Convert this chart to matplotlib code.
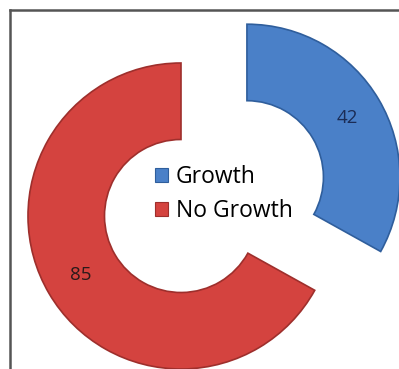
import matplotlib

matplotlib.use("agg")
import matplotlib.pyplot as plt
from matplotlib.lines import Line2D

# data
categories = ["Growth", "No Growth"]
values = [42, 85]
colors = ["#4a80c8", "#d4433f"]
edge_colors = ["#2f5e9c", "#9e2f2c"]
label_colors = ["#1b2c55", "#2a1a1a"]

W, H = 399, 369
fig = plt.figure(figsize=(W / 100, H / 100), dpi=100)
ax = fig.add_axes([0, 0, 1, 1])

# pie centre at pixel (181, 216), outer radius 153 px
cx, cy, R = 181, 216, 153
total = sum(values)
wedges, texts, autotexts = ax.pie(
    values,
    startangle=90,
    counterclock=False,
    colors=colors,
    explode=[0.5, 0.0],
    autopct=lambda p: f"{round(p * total / 100)}",
    pctdistance=0.76,
    wedgeprops=dict(width=0.5, linewidth=1.2),
    textprops=dict(fontsize=13.5, family=["Open Sans", "DejaVu Sans"]),
)
for w, ec in zip(wedges, edge_colors):
    w.set_edgecolor(ec)
for t, c in zip(autotexts, label_colors):
    t.set_color(c)

ax.set_aspect("auto")
ax.set_xlim(-cx / R, (W - cx) / R)
ax.set_ylim(-(H - cy) / R, cy / R)
ax.axis("off")

# frame lines (top and left only)
fig.add_artist(Line2D([10 / W, 1], [1 - 10 / H, 1 - 10 / H], color="#555555", lw=1.8))
fig.add_artist(Line2D([10 / W, 10 / W], [0, 1 - 10 / H], color="#555555", lw=1.8))

handles = [
    plt.Rectangle((0, 0), 1, 1, facecolor=c, edgecolor=ec, lw=0.8)
    for c, ec in zip(colors, edge_colors)
]
ax.legend(
    handles,
    categories,
    loc="center",
    bbox_to_anchor=(224 / W, 1 - 194 / H),
    bbox_transform=fig.transFigure,
    frameon=False,
    handlelength=0.55,
    handleheight=0.55,
    handletextpad=0.35,
    labelspacing=0.45,
    prop=dict(family=["Open Sans", "DejaVu Sans"], size=16.5),
)

fig.savefig("out.png", dpi=100)
